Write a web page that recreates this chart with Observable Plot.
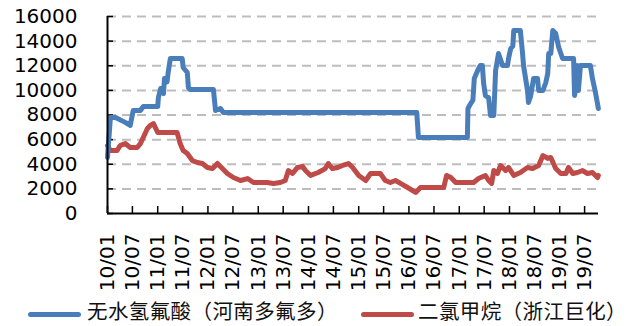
<!DOCTYPE html>
<html>
<head>
<meta charset="utf-8">
<script src="https://cdn.jsdelivr.net/npm/d3@7"></script>
<script src="https://cdn.jsdelivr.net/npm/@observablehq/plot@0.6"></script>
<style>
  html, body { margin: 0; padding: 0; background: #fff; }
  #chart svg { display: block; }
  #legend { position: relative; height: 24px; font-family: "Noto Sans CJK SC", sans-serif; font-size: 20.5px; color: #111; }
  #legend .sw { position: absolute; top: 10px; height: 5px; border-radius: 3px; }
  #legend .tx { position: absolute; top: -3px; line-height: 22px; height: 22px; white-space: nowrap; letter-spacing: 0.4px; }
</style>
</head>
<body>
<div id="chart"></div>
<div id="legend">
  <div class="sw" style="left:28px;width:53px;background:#4a7ebb"></div>
  <div class="tx" style="left:87px">无水氢氟酸（河南多氟多）</div>
  <div class="sw" style="left:361px;width:53px;background:#be4b48"></div>
  <div class="tx" style="left:418px">二氯甲烷（浙江巨化）</div>
</div>
<script>
const seriesNames = ["无水氢氟酸（河南多氟多）", "二氯甲烷（浙江巨化）"];

const blueDates = ["2010-01-01","2010-01-22","2010-02-28","2010-05-10","2010-06-15","2010-07-07","2010-08-28","2010-09-18","2011-01-01","2011-01-06","2011-01-22","2011-02-12","2011-02-19","2011-03-10","2011-03-18","2011-04-03","2011-06-28","2011-07-05","2011-08-04","2011-08-12","2011-08-25","2012-02-10","2012-02-25","2012-04-01","2012-04-22","2016-02-27","2016-03-10","2017-03-01","2017-03-05","2017-03-25","2017-04-10","2017-04-20","2017-05-21","2017-06-03","2017-06-18","2017-06-27","2017-07-10","2017-08-02","2017-08-16","2017-09-09","2017-09-22","2017-10-13","2017-10-28","2017-11-12","2017-12-18","2017-12-25","2018-01-10","2018-01-25","2018-02-01","2018-03-21","2018-04-06","2018-04-13","2018-05-12","2018-05-19","2018-06-03","2018-06-25","2018-07-24","2018-08-01","2018-09-01","2018-09-22","2018-10-06","2018-10-13","2018-10-28","2018-11-12","2018-12-03","2018-12-25","2019-01-22","2019-04-12","2019-04-19","2019-05-03","2019-05-10","2019-05-17","2019-06-01","2019-08-12","2019-08-27","2019-09-18","2019-10-09"];
const blueValues = [4550,7800,7800,7400,7150,8360,8360,8690,8690,9420,10150,9740,10960,10700,11450,12590,12590,11860,11450,10230,10070,10070,8360,8530,8200,8200,6170,6170,8530,8930,9200,10960,11770,12020,12020,10560,9580,9420,7960,7960,11610,12990,12500,12020,12020,12590,13400,13600,14860,14860,12990,12020,9990,9010,9500,10960,10960,9990,9990,10640,11370,12990,12990,14860,14620,13480,12590,12590,9580,10500,12020,9990,12020,12020,10960,9820,8530];

const redDates = ["2010-01-01","2010-01-22","2010-03-12","2010-04-03","2010-05-10","2010-06-15","2010-08-05","2010-08-28","2010-09-18","2010-10-18","2010-11-08","2010-12-01","2011-01-01","2011-05-22","2011-06-13","2011-07-05","2011-08-04","2011-09-10","2011-10-16","2011-11-22","2011-12-28","2012-02-03","2012-03-10","2012-04-15","2012-05-21","2012-07-04","2012-08-25","2012-10-15","2012-11-27","2013-03-07","2013-04-21","2013-06-10","2013-07-16","2013-08-08","2013-09-07","2013-10-13","2013-11-19","2013-12-10","2014-01-16","2014-03-13","2014-05-03","2014-05-25","2014-06-24","2014-08-01","2014-09-06","2014-10-19","2014-11-18","2015-01-01","2015-02-21","2015-03-28","2015-06-07","2015-07-13","2015-08-19","2015-09-25","2015-11-01","2015-12-22","2016-02-19","2016-03-25","2016-09-10","2016-10-01","2016-11-01","2016-12-06","2017-04-15","2017-05-21","2017-07-10","2017-08-02","2017-08-24","2017-09-09","2017-10-06","2017-10-28","2017-12-04","2017-12-25","2018-02-01","2018-03-21","2018-05-12","2018-06-18","2018-08-01","2018-09-01","2018-10-06","2018-10-28","2018-12-03","2019-01-09","2019-02-15","2019-03-06","2019-04-06","2019-05-10","2019-06-16","2019-07-22","2019-08-27","2019-10-03","2019-10-09"];
const redValues = [5520,5120,5120,5520,5680,5360,5360,5680,6170,6900,7150,7300,6580,6580,5680,5120,4870,4300,4140,4060,3740,3650,4060,3650,3250,2920,2680,2840,2520,2520,2440,2520,2680,3490,3250,3740,3820,3490,3090,3330,3650,4060,3650,3740,3900,4060,3740,3090,2680,3250,3250,2680,2520,2680,2440,2110,1710,2110,2110,3090,2920,2520,2520,2840,3090,2680,2440,3490,3250,3900,3490,3740,3090,3330,3740,3650,3900,4710,4470,4550,3650,3250,3250,3740,3250,3330,3490,3250,3330,2920,3090];

const xTickDates = ["2010-01-01","2010-07-01","2011-01-01","2011-07-01","2012-01-01","2012-07-01","2013-01-01","2013-07-01","2014-01-01","2014-07-01","2015-01-01","2015-07-01","2016-01-01","2016-07-01","2017-01-01","2017-07-01","2018-01-01","2018-07-01","2019-01-01","2019-07-01"];
const yTicks = [0,2000,4000,6000,8000,10000,12000,14000,16000];
const xDomain = ["2010-01-01","2019-10-10"];

const parse = d3.utcParse("%Y-%m-%d");
const blue = blueDates.map((d, i) => ({date: parse(d), value: blueValues[i]}));
const red = redDates.map((d, i) => ({date: parse(d), value: redValues[i]}));
const xTicks = xTickDates.map(parse);
const fmt = d3.utcFormat("%y/%m");

const chart = Plot.plot({
  width: 640,
  height: 302,
  marginLeft: 107,
  marginRight: 42,
  marginTop: 16,
  marginBottom: 89,
  style: {fontFamily: "DejaVu Sans, sans-serif", fontSize: "20px", color: "#000", background: "#fff"},
  x: {type: "utc", domain: xDomain.map(parse), label: null},
  y: {domain: [0, 16000], label: null},
  marks: [
    Plot.gridY(yTicks.filter(d => d > 0), {stroke: "#bdbdbd", strokeOpacity: 1, strokeWidth: 2, strokeDasharray: "9,6"}),
    Plot.axisY(yTicks, {tickSize: 0, tickPadding: 30, tickFormat: d => String(d), fontSize: 20, label: null}),
    Plot.axisY(yTicks, {tickSize: 6, dx: 6, tickFormat: () => "", stroke: "#000", strokeWidth: 1.5, label: null}),
    Plot.axisX(xTicks, {tickSize: 0, tickRotate: -90, tickPadding: 20, tickFormat: fmt, fontSize: 20, label: null}),
    Plot.axisX(xTicks, {tickSize: 7, dy: -7, tickFormat: () => "", stroke: "#000", strokeWidth: 1.5, label: null}),
    Plot.line(red, {x: "date", y: "value", stroke: "#be4b48", strokeWidth: 5, strokeLinejoin: "round", strokeLinecap: "round"}),
    Plot.line(blue, {x: "date", y: "value", stroke: "#4a7ebb", strokeWidth: 5, strokeLinejoin: "round", strokeLinecap: "round"}),
    Plot.ruleX([parse(xDomain[0])], {stroke: "#000", strokeWidth: 2}),
    Plot.ruleY([0], {stroke: "#000", strokeWidth: 2})
  ]
});
document.getElementById("chart").appendChild(chart);
</script>
</body>
</html>
